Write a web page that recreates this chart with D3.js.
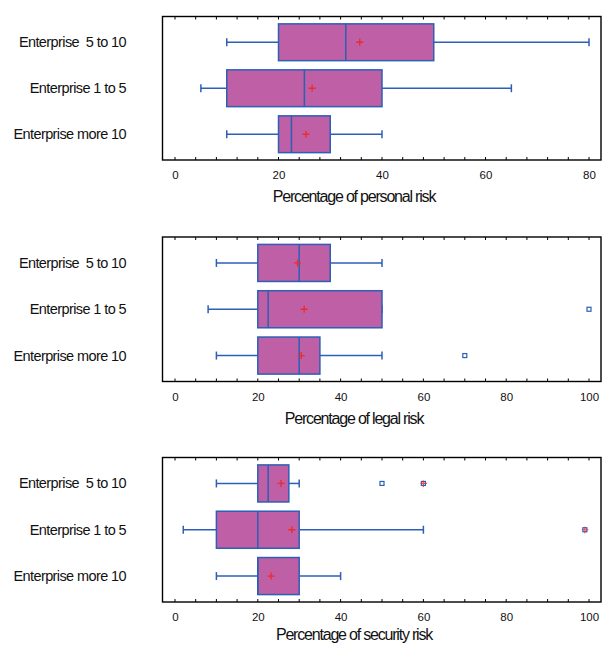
<!DOCTYPE html>
<html>
<head>
<meta charset="utf-8">
<script src="https://cdn.jsdelivr.net/npm/d3@7"></script>
<style>
  body { margin: 0; background: #fff; }
  svg text { font-family: "Liberation Sans", Arial, sans-serif; fill: #111; }
</style>
</head>
<body>
<svg id="chart" width="602" height="645"></svg>
<script>
const groups = ["Enterprise  5 to 10", "Enterprise 1 to 5", "Enterprise more 10"]

// [whiskerLow, q1, median, q3, whiskerHigh, mean]
const personalRisk = [
  [10, 20, 33, 50, 80, 35.7],
  [5, 10, 25, 40, 65, 26.5],
  [10, 20, 22.5, 30, 40, 25.3]
]
const legalRisk = [
  [10, 20, 30, 37.5, 50, 29.6],
  [8, 20, 22.5, 50, 50, 31.2],
  [10, 20, 30, 35, 50, 30.5]
]
const securityRisk = [
  [10, 20, 22.5, 27.5, 30, 25.6],
  [2, 10, 20, 30, 60, 28.2],
  [10, 20, 20, 30, 40, 23.2]
]

// outliers: [groupIndex, value, far]
const personalOutliers = []
const legalOutliers = [[1, 100, false], [2, 70, false]]
const securityOutliers = [[0, 50, false], [0, 60, true], [1, 99, true]]

const panels = [
  { stats: personalRisk, outliers: personalOutliers, max: 80, title: "Percentage of personal risk", top: 16.5, bottom: 160, titleY: 202 },
  { stats: legalRisk, outliers: legalOutliers, max: 100, title: "Percentage of legal risk", top: 237, bottom: 381.5, titleY: 423.5 },
  { stats: securityRisk, outliers: securityOutliers, max: 100, title: "Percentage of security risk", top: 457.5, bottom: 602, titleY: 640 }
]

const fillColor = "#bf5fa5"
const blue = "#2c5fb6"
const red = "#ee2a2a"
const frameLeft = 162.5, frameRight = 601

const svg = d3.select("#chart")

panels.forEach(p => {
  const g = svg.append("g")

  const x = d3.scaleLinear().domain([0, p.max]).range([175, 589])
  const y = d3.scalePoint().domain(groups).range([p.top, p.bottom]).padding(0.56)
  const bh = y.step() * 0.8

  // frame
  g.append("rect")
    .attr("x", frameLeft).attr("y", p.top)
    .attr("width", frameRight - frameLeft).attr("height", p.bottom - p.top)
    .attr("fill", "none").attr("stroke", "#000").attr("stroke-width", 1.4)

  // ticks inside frame, top and bottom
  const minorStep = p.max === 80 ? 4 : 5
  const ticks = d3.range(0, p.max + 0.01, minorStep)
  g.selectAll(".tb").data(ticks).join("line")
    .attr("x1", d => x(d)).attr("x2", d => x(d))
    .attr("y1", p.bottom).attr("y2", p.bottom - 3)
    .attr("stroke", "#000").attr("stroke-width", 1)
  g.selectAll(".tt").data(ticks).join("line")
    .attr("x1", d => x(d)).attr("x2", d => x(d))
    .attr("y1", p.top).attr("y2", p.top + 3)
    .attr("stroke", "#000").attr("stroke-width", 1)

  // tick labels
  const axis = d3.axisBottom(x).tickValues(d3.range(0, p.max + 1, 20)).tickSize(0).tickPadding(0)
  const ax = g.append("g").attr("transform", `translate(0,${p.bottom + 11})`).call(axis)
  ax.select(".domain").remove()
  ax.selectAll("text").attr("font-size", 11.5).style("font-family", "Liberation Sans, Arial, sans-serif").attr("fill", "#111")

  // axis title
  g.append("text")
    .attr("x", 354).attr("y", p.titleY)
    .attr("text-anchor", "middle")
    .attr("font-size", 16).attr("letter-spacing", -1.2)
    .text(p.title)

  // group labels
  g.selectAll(".lab").data(groups).join("text")
    .attr("x", 126).attr("y", d => y(d) + 5)
    .attr("text-anchor", "end")
    .attr("font-size", 14.5).attr("letter-spacing", -0.6)
    .style("white-space", "pre")
    .text(d => d)

  p.stats.forEach((s, i) => {
    const cy = y(groups[i])
    const [lo, q1, med, q3, hi, mean] = s
    // whiskers
    g.append("line").attr("x1", x(lo)).attr("x2", x(q1)).attr("y1", cy).attr("y2", cy)
      .attr("stroke", blue).attr("stroke-width", 1.5)
    g.append("line").attr("x1", x(q3)).attr("x2", x(hi)).attr("y1", cy).attr("y2", cy)
      .attr("stroke", blue).attr("stroke-width", 1.5)
    ;[lo, hi].forEach(v => {
      g.append("line").attr("x1", x(v)).attr("x2", x(v)).attr("y1", cy - 4).attr("y2", cy + 4)
        .attr("stroke", blue).attr("stroke-width", 1.5)
    })
    // box
    g.append("rect")
      .attr("x", x(q1)).attr("y", cy - bh / 2)
      .attr("width", x(q3) - x(q1)).attr("height", bh)
      .attr("fill", fillColor).attr("stroke", blue).attr("stroke-width", 1.5)
    // median
    g.append("line").attr("x1", x(med)).attr("x2", x(med)).attr("y1", cy - bh / 2).attr("y2", cy + bh / 2)
      .attr("stroke", blue).attr("stroke-width", 1.5)
    // mean
    g.append("path")
      .attr("d", `M${x(mean) - 3.5},${cy}H${x(mean) + 3.5}M${x(mean)},${cy - 3.5}V${cy + 3.5}`)
      .attr("stroke", red).attr("stroke-width", 1.3).attr("fill", "none")
  })

  p.outliers.forEach(([i, v, far]) => {
    const cy = y(groups[i])
    g.append("rect")
      .attr("x", x(v) - 2).attr("y", cy - 2).attr("width", 4).attr("height", 4)
      .attr("fill", "#fff").attr("stroke", blue).attr("stroke-width", 1.2)
    if (far) {
      g.append("path")
        .attr("d", `M${x(v) - 3},${cy}H${x(v) + 3.5}M${x(v)},${cy - 3}V${cy + 3.5}`)
        .attr("stroke", red).attr("stroke-width", 1.2).attr("opacity", 0.8)
    }
  })
})
</script>
</body>
</html>
